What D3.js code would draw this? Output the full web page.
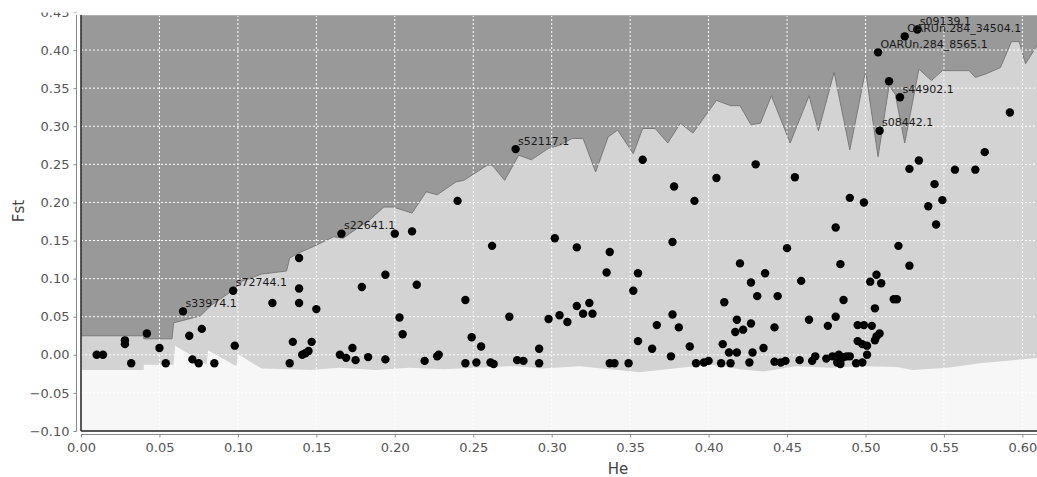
<!DOCTYPE html>
<html>
<head>
<meta charset="utf-8">
<script src="https://cdn.jsdelivr.net/npm/d3@7"></script>
<style>
  html, body { margin: 0; padding: 0; background: #fff; }
  svg { display: block; }
</style>
</head>
<body>
<svg id="chart" width="1037" height="477"></svg>
<script>
// ---------- DATA ----------
const xTicks = [0.00, 0.05, 0.10, 0.15, 0.20, 0.25, 0.30, 0.35, 0.40, 0.45, 0.50, 0.55, 0.60];
const yTicks = [-0.10, -0.05, 0.00, 0.05, 0.10, 0.15, 0.20, 0.25, 0.30, 0.35, 0.40, 0.45];

// upper (candidate for positive selection) envelope
const upperHe  = [0, 0.040, 0.040, 0.058, 0.059, 0.076, 0.083, 0.097, 0.103, 0.115, 0.131, 0.133, 0.138, 0.148, 0.161, 0.167, 0.176, 0.184, 0.193, 0.199, 0.211, 0.220, 0.227, 0.239, 0.244, 0.259, 0.262, 0.270, 0.279, 0.287, 0.298, 0.305, 0.313, 0.320, 0.328, 0.336, 0.342, 0.352, 0.358, 0.366, 0.374, 0.382, 0.390, 0.405, 0.414, 0.420, 0.427, 0.433, 0.440, 0.452, 0.464, 0.470, 0.480, 0.490, 0.500, 0.508, 0.515, 0.519, 0.525, 0.534, 0.542, 0.549, 0.566, 0.570, 0.577, 0.586, 0.593, 0.598, 0.602, 0.610];
const upperFst = [0.025, 0.025, 0.021, 0.021, 0.042, 0.051, 0.065, 0.085, 0.097, 0.106, 0.110, 0.127, 0.133, 0.142, 0.155, 0.153, 0.166, 0.177, 0.194, 0.194, 0.186, 0.214, 0.210, 0.227, 0.229, 0.249, 0.249, 0.229, 0.262, 0.256, 0.271, 0.275, 0.284, 0.284, 0.240, 0.286, 0.295, 0.264, 0.297, 0.297, 0.278, 0.304, 0.291, 0.334, 0.327, 0.327, 0.302, 0.304, 0.340, 0.278, 0.340, 0.294, 0.371, 0.269, 0.373, 0.260, 0.353, 0.342, 0.278, 0.375, 0.360, 0.373, 0.373, 0.364, 0.369, 0.377, 0.411, 0.411, 0.382, 0.408];

// lower (balancing selection) envelope
const lowerHe  = [0, 0.040, 0.040, 0.059, 0.060, 0.080, 0.081, 0.099, 0.100, 0.115, 0.133, 0.146, 0.165, 0.188, 0.209, 0.231, 0.252, 0.273, 0.277, 0.294, 0.318, 0.337, 0.356, 0.382, 0.403, 0.420, 0.435, 0.456, 0.477, 0.498, 0.520, 0.530, 0.552, 0.573, 0.594, 0.610];
const lowerFst = [-0.020, -0.020, -0.013, -0.013, 0.012, -0.013, 0.006, -0.015, 0.001, -0.018, -0.019, -0.020, -0.017, -0.020, -0.017, -0.019, -0.017, -0.015, -0.015, -0.018, -0.015, -0.019, -0.023, -0.017, -0.013, -0.019, -0.022, -0.015, -0.017, -0.015, -0.016, -0.020, -0.017, -0.011, -0.007, -0.004];

// loci
const lociHe = [0.010, 0.014, 0.028, 0.028, 0.032, 0.042, 0.050, 0.054, 0.069, 0.071, 0.075, 0.077, 0.085, 0.098, 0.122, 0.133, 0.135, 0.139, 0.139, 0.139, 0.141, 0.143, 0.145, 0.147, 0.150, 0.165, 0.169, 0.173, 0.175, 0.179, 0.183,
  0.194, 0.194, 0.200, 0.203, 0.205, 0.211, 0.214, 0.219, 0.227, 0.228, 0.240, 0.245, 0.245, 0.249, 0.252, 0.255, 0.261, 0.262, 0.263,
  0.273, 0.278, 0.282, 0.292, 0.292, 0.298, 0.302, 0.305, 0.310, 0.316, 0.316, 0.320, 0.324, 0.326, 0.335, 0.337, 0.337, 0.340, 0.349, 0.352, 0.355, 0.355, 0.358, 0.364, 0.367, 0.376, 0.377, 0.377, 0.378, 0.381,
  0.388, 0.391, 0.392, 0.397, 0.400, 0.405, 0.408, 0.409, 0.410, 0.413, 0.414, 0.417, 0.418, 0.418, 0.420, 0.422, 0.426, 0.427, 0.427, 0.428, 0.430, 0.431, 0.435, 0.436, 0.442, 0.442, 0.444, 0.446, 0.449, 0.450, 0.455, 0.458, 0.459, 0.464, 0.466, 0.468, 0.475, 0.476, 0.479, 0.481, 0.481, 0.482, 0.483, 0.484, 0.484, 0.484, 0.486, 0.486, 0.488, 0.490, 0.490, 0.494, 0.495, 0.495, 0.498, 0.498, 0.499, 0.499, 0.501, 0.501, 0.503, 0.504, 0.506, 0.506, 0.507, 0.507, 0.509, 0.510,
  0.515, 0.518, 0.520, 0.521, 0.528, 0.528, 0.534, 0.540, 0.544, 0.545, 0.549, 0.557, 0.570, 0.576, 0.592];
const lociFst = [0.000, 0.000, 0.019, 0.014, -0.011, 0.028, 0.009, -0.011, 0.025, -0.006, -0.011, 0.034, -0.011, 0.012, 0.068, -0.011, 0.017, 0.127, 0.087, 0.068, 0.000, 0.002, 0.005, 0.017, 0.060, 0.000, -0.004, 0.009, -0.007, 0.089, -0.003,
  -0.006, 0.105, 0.159, 0.049, 0.027, 0.162, 0.092, -0.008, -0.002, 0.000, 0.202, 0.072, -0.011, 0.023, -0.010, 0.011, -0.010, 0.143, -0.012,
  0.050, -0.007, -0.008, 0.008, -0.011, 0.047, 0.153, 0.052, 0.043, 0.141, 0.064, 0.054, 0.068, 0.054, 0.108, 0.135, -0.011, -0.011, -0.011, 0.084, 0.107, 0.018, 0.256, 0.008, 0.039, -0.002, 0.053, 0.148, 0.221, 0.036,
  0.011, 0.202, -0.011, -0.010, -0.008, 0.232, -0.011, 0.014, 0.069, 0.003, -0.011, 0.030, 0.003, 0.046, 0.120, 0.033, -0.010, 0.095, 0.041, 0.003, 0.250, 0.077, 0.009, 0.107, 0.036, -0.009, 0.077, -0.010, -0.008, 0.140, 0.233, -0.007, 0.097, 0.046, -0.008, -0.002, -0.005, 0.038, -0.002, 0.050, 0.167, -0.010, 0.000, 0.119, -0.007, -0.012, -0.003, 0.072, -0.002, 0.206, -0.002, -0.011, 0.039, 0.018, -0.010, 0.014, 0.039, 0.200, 0.000, 0.012, 0.096, 0.038, 0.019, 0.061, 0.105, 0.024, 0.028, 0.094,
  0.359, 0.073, 0.073, 0.143, 0.117, 0.244, 0.255, 0.195, 0.224, 0.171, 0.203, 0.243, 0.243, 0.266, 0.318];

// named outlier loci
const namedLoci = ["s33974.1", "s72744.1", "s22641.1", "s52117.1", "s08442.1", "s44902.1", "OARUn.284_8565.1", "OARUn.284_34504.1", "s09139.1"];
const namedHe   = [0.065, 0.097, 0.166, 0.277, 0.509, 0.522, 0.508, 0.525, 0.533];
const namedFst  = [0.057, 0.084, 0.159, 0.270, 0.294, 0.338, 0.397, 0.418, 0.427];

// ---------- DRAW ----------
const svg = d3.select("#chart");
const plot = { left: 81, right: 1038, top: 15, bottom: 431 };

const x = d3.scaleLinear().domain([0, 0.61]).range([plot.left, plot.left + 0.61 * 1569]);
const y = d3.scaleLinear().domain([-0.10, 0.446]).range([plot.bottom, plot.top]);

svg.append("defs").append("clipPath").attr("id", "clip")
  .append("rect").attr("x", plot.left).attr("y", plot.top)
  .attr("width", plot.right - plot.left).attr("height", plot.bottom - plot.top);

const g = svg.append("g").attr("clip-path", "url(#clip)");

// dark background (upper region)
g.append("rect").attr("x", plot.left).attr("y", plot.top)
  .attr("width", plot.right - plot.left).attr("height", plot.bottom - plot.top)
  .attr("fill", "#999999");

// neutral band: between upper and lower envelope
const upper = upperHe.map((h, i) => [h, upperFst[i]]);
const lower = lowerHe.map((h, i) => [h, lowerFst[i]]);

const areaUp = d3.area().x(d => x(d[0])).y0(y(-0.2)).y1(d => y(d[1]));
g.append("path").datum(upper).attr("d", areaUp).attr("fill", "#d3d3d3");

const areaLow = d3.area().x(d => x(d[0])).y0(y(-0.2)).y1(d => y(d[1]));
g.append("path").datum(lower).attr("d", areaLow).attr("fill", "#f7f7f7");

g.append("path").datum(upper)
  .attr("d", d3.line().x(d => x(d[0])).y(d => y(d[1])))
  .attr("fill", "none").attr("stroke", "#7a7a7a").attr("stroke-width", 1);

// grid
g.selectAll(".vg").data(xTicks).join("line")
  .attr("x1", d => x(d)).attr("x2", d => x(d))
  .attr("y1", plot.top).attr("y2", plot.bottom)
  .attr("stroke", "#ffffff").attr("stroke-width", 1).attr("stroke-dasharray", "2,2");
g.selectAll(".hg").data(yTicks).join("line")
  .attr("x1", plot.left).attr("x2", plot.right)
  .attr("y1", d => y(d)).attr("y2", d => y(d))
  .attr("stroke", "#ffffff").attr("stroke-width", 1).attr("stroke-dasharray", "2,2");

// points
g.selectAll(".pt").data(lociHe.map((h, i) => [h, lociFst[i]])).join("circle")
  .attr("cx", d => x(d[0])).attr("cy", d => y(d[1])).attr("r", 4.2).attr("fill", "#000");
g.selectAll(".npt").data(namedHe.map((h, i) => [h, namedFst[i]])).join("circle")
  .attr("cx", d => x(d[0])).attr("cy", d => y(d[1])).attr("r", 4.2).attr("fill", "#000");

// labels
svg.selectAll(".lbl").data(namedLoci).join("text")
  .attr("x", (d, i) => x(namedHe[i]) + 2.5)
  .attr("y", (d, i) => y(namedFst[i]) - 4.5)
  .attr("font-family", "DejaVu Sans, sans-serif").attr("font-size", 11)
  .attr("fill", "#1a1a1a").text(d => d);

// plot border (top light, left & bottom dark)
svg.append("line").attr("x1", plot.left).attr("x2", plot.right).attr("y1", plot.top + 0.5).attr("y2", plot.top + 0.5)
  .attr("stroke", "#b0b0b0");
svg.append("line").attr("x1", plot.left).attr("x2", plot.left).attr("y1", plot.top).attr("y2", plot.bottom)
  .attr("stroke", "#222").attr("stroke-width", 1.5);
svg.append("line").attr("x1", plot.left).attr("x2", plot.right).attr("y1", plot.bottom).attr("y2", plot.bottom)
  .attr("stroke", "#222").attr("stroke-width", 1.5);

// axes (gray, offset)
const axisY = svg.append("g").attr("transform", "translate(76.5,0)")
  .call(d3.axisLeft(y).tickValues(yTicks).tickFormat(d3.format(".2f")).tickSize(3).tickPadding(4));
const axisX = svg.append("g").attr("transform", "translate(0,434.5)")
  .call(d3.axisBottom(x).tickValues(xTicks).tickFormat(d3.format(".2f")).tickSize(3).tickPadding(5));
axisY.select(".domain").attr("stroke", "#8a8a8a").attr("d", `M0,${plot.top}V${plot.bottom + 0.5}`);
axisX.select(".domain").attr("stroke", "#8a8a8a").attr("d", `M${plot.left},0H${plot.right}`);
[axisY, axisX].forEach(a => {
  a.selectAll(".tick line").attr("stroke", "#8a8a8a");
  a.selectAll(".tick text").attr("fill", "#555").attr("font-family", "DejaVu Sans, sans-serif").attr("font-size", 13);
});

// cropped top edge
svg.append("rect").attr("x", 0).attr("y", 0).attr("width", 1037).attr("height", 12.5).attr("fill", "#fff");

// axis titles
svg.append("text").attr("x", 618).attr("y", 474).attr("text-anchor", "middle")
  .attr("font-family", "DejaVu Sans, sans-serif").attr("font-size", 15).attr("fill", "#444").text("He");
svg.append("text").attr("transform", "translate(24,211) rotate(-90)").attr("text-anchor", "middle")
  .attr("font-family", "DejaVu Sans, sans-serif").attr("font-size", 15).attr("fill", "#444").text("Fst");
</script>
</body>
</html>
